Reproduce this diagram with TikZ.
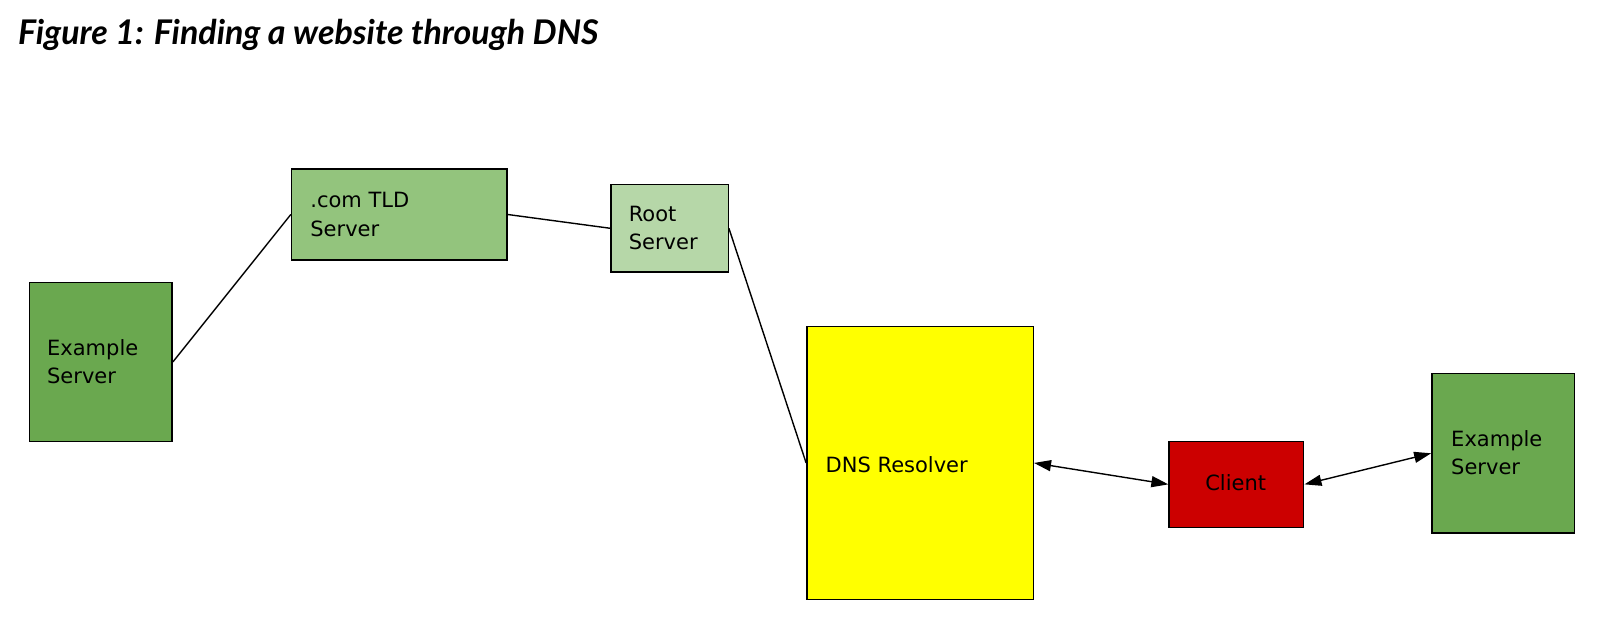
\documentclass[tikz,border=0pt]{standalone}
\usepackage{fontspec}
\setmainfont{DejaVu Sans}
\newfontfamily\titlefont{Lato}
\usetikzlibrary{arrows.meta}
\definecolor{darkgreen}{HTML}{6AA84F}
\definecolor{midgreen}{HTML}{93C47D}
\definecolor{lightgreen}{HTML}{B6D7A8}
\definecolor{clientred}{HTML}{CC0000}
\definecolor{resolveryellow}{HTML}{FFFF00}
\tikzset{
  box/.style={draw=black, line width=1.4pt, anchor=north west, inner sep=0pt},
  lbl/.style={anchor=west, align=left, inner sep=0pt, font=\fontsize{21}{28.5}\selectfont},
  link/.style={draw=black, line width=1.4pt},
  twoway/.style={link, {Triangle[length=17pt,width=11pt]}-{Triangle[length=17pt,width=11pt]}}
}
\begin{document}
\begin{tikzpicture}[x=1.0204pt,y=-1.0204pt]
\useasboundingbox (0,0) rectangle (1568,607.6);
\node[anchor=base west, inner sep=0pt, font=\titlefont\fontsize{34}{40}\selectfont\bfseries\itshape] (title) at (17.5,44) {Figure 1: Finding a website through DNS};
% boxes
\node[box, fill=darkgreen, minimum width=142.9pt, minimum height=159.2pt] (exl) at (28,276) {};
\node[box, fill=midgreen, minimum width=215.3pt, minimum height=90.8pt] (tld) at (285,165) {};
\node[box, fill=lightgreen, minimum width=117.3pt, minimum height=87.8pt] (root) at (598,180) {};
\node[box, fill=resolveryellow, minimum width=226.5pt, minimum height=273.5pt] (dns) at (790,319) {};
\node[box, fill=clientred, minimum width=134.7pt, minimum height=85.7pt] (client) at (1145,432) {};
\node[box, fill=darkgreen, minimum width=142.9pt, minimum height=159.2pt] (exr) at (1402.5,365.5) {};
% labels
\node[lbl] (exlt) at (46,354.5) {Example\\Server};
\node[lbl] (tldt) at (304,210) {.com TLD\\Server};
\node[lbl] (roott) at (616,223.5) {Root\\Server};
\node[lbl, anchor=base west] (dnst) at (809,463.5) {DNS Resolver};
\node[lbl, anchor=base] (clientt) at (1211,481) {Client};
\node[lbl] (exrt) at (1422,443.5) {Example\\Server};
% connectors
\draw[link] (exl.east) -- (tld.west);
\draw[link] (tld.east) -- (root.west);
\draw[link] (root.east) -- (dns.west);
\draw[twoway] (dns.east) -- (client.west);
\draw[twoway] (client.east) -- (exr.west);
\end{tikzpicture}
\end{document}
